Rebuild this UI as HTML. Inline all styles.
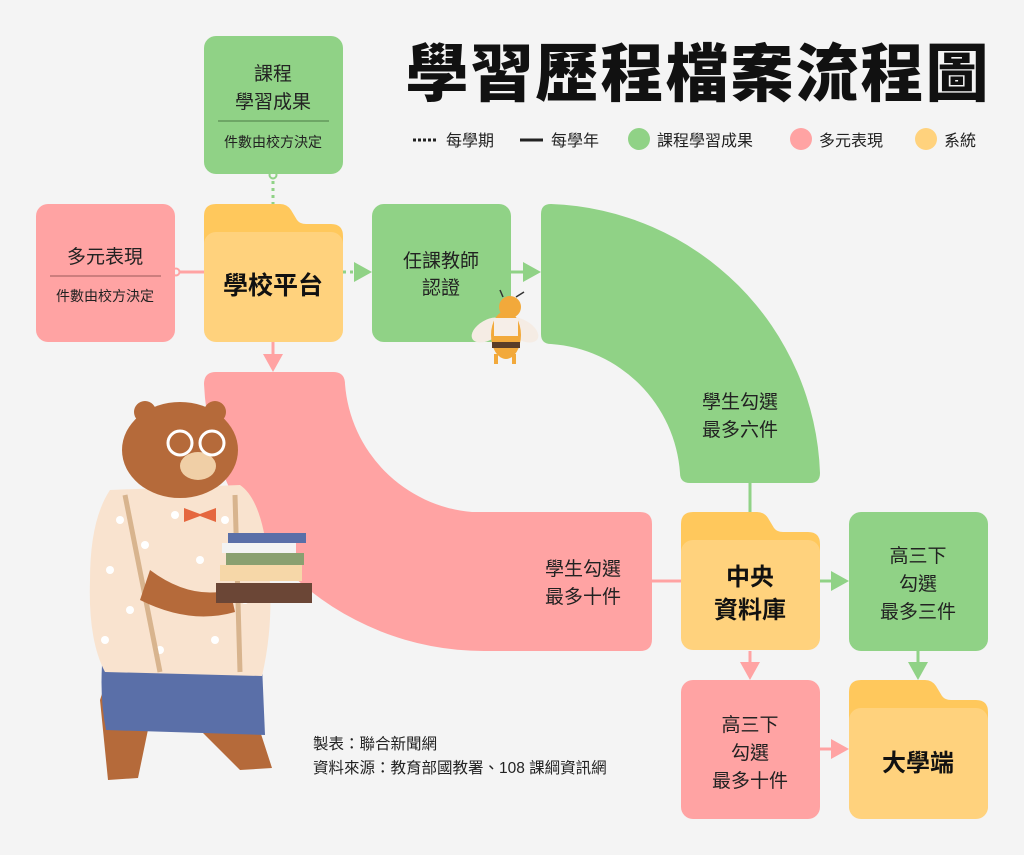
<!DOCTYPE html>
<html><head><meta charset="utf-8"><style>
body{margin:0;background:#f4f4f4;}
svg{display:block;font-family:"Liberation Sans","Noto Sans CJK TC",sans-serif;}
</style></head><body>
<svg width="1024" height="855" viewBox="0 0 1024 855">
<rect width="1024" height="855" fill="#f4f4f4"/>
<text x="698" y="96" font-size="63" font-weight="900" text-anchor="middle" fill="#111" letter-spacing="2">學習歷程檔案流程圖</text>
<!-- legend -->
<line x1="413" y1="140" x2="438" y2="140" stroke="#222" stroke-width="3" stroke-dasharray="3,2"/>
<text x="446" y="146" font-size="16" fill="#222">每學期</text>
<line x1="520" y1="140" x2="543" y2="140" stroke="#222" stroke-width="3"/>
<text x="551" y="146" font-size="16" fill="#222">每學年</text>
<circle cx="639" cy="139" r="11" fill="#90d286"/><text x="657" y="146" font-size="16" fill="#222">課程學習成果</text>
<circle cx="801" cy="139" r="11" fill="#ffa3a3"/><text x="819" y="146" font-size="16" fill="#222">多元表現</text>
<circle cx="926" cy="139" r="11" fill="#ffd27d"/><text x="944" y="146" font-size="16" fill="#222">系統</text>

<!-- connectors -->
<line x1="273" y1="174" x2="273" y2="204" stroke="#90d286" stroke-width="3" stroke-dasharray="3,4"/>
<circle cx="273" cy="175" r="3.5" fill="#f4f4f4" stroke="#90d286" stroke-width="2"/>
<line x1="175" y1="272" x2="204" y2="272" stroke="#ffa3a3" stroke-width="3"/>
<circle cx="176" cy="272" r="3.5" fill="#f4f4f4" stroke="#ffa3a3" stroke-width="2"/>
<line x1="343" y1="272" x2="356" y2="272" stroke="#90d286" stroke-width="3" stroke-dasharray="3,4"/>
<polygon points="354,262 372,272 354,282" fill="#90d286"/>
<line x1="511" y1="272" x2="525" y2="272" stroke="#90d286" stroke-width="3"/>
<polygon points="523,262 541,272 523,282" fill="#90d286"/>
<line x1="273" y1="342" x2="273" y2="356" stroke="#ffa3a3" stroke-width="3"/>
<polygon points="263,354 273,372 283,354" fill="#ffa3a3"/>
<line x1="750" y1="483" x2="750" y2="512" stroke="#90d286" stroke-width="3"/>
<line x1="652" y1="581" x2="681" y2="581" stroke="#ffa3a3" stroke-width="3"/>
<line x1="820" y1="581" x2="833" y2="581" stroke="#90d286" stroke-width="3"/>
<polygon points="831,571 849,581 831,591" fill="#90d286"/>
<line x1="918" y1="651" x2="918" y2="664" stroke="#90d286" stroke-width="3"/>
<polygon points="908,662 918,680 928,662" fill="#90d286"/>
<line x1="750" y1="651" x2="750" y2="664" stroke="#ffa3a3" stroke-width="3"/>
<polygon points="740,662 750,680 760,662" fill="#ffa3a3"/>
<line x1="820" y1="749" x2="833" y2="749" stroke="#ffa3a3" stroke-width="3"/>
<polygon points="831,739 849,749 831,759" fill="#ffa3a3"/>

<!-- boxes -->
<rect x="204" y="36" width="139" height="138" rx="12" fill="#90d286"/>
<text x="273" y="80" font-size="19" text-anchor="middle" fill="#222">課程</text>
<text x="273" y="108" font-size="19" text-anchor="middle" fill="#222">學習成果</text>
<line x1="218" y1="121" x2="329" y2="121" stroke="#4c7a45" stroke-width="1"/>
<text x="273" y="147" font-size="14" text-anchor="middle" fill="#222">件數由校方決定</text>

<rect x="36" y="204" width="139" height="138" rx="12" fill="#ffa3a3"/>
<text x="105" y="263" font-size="19" text-anchor="middle" fill="#222">多元表現</text>
<line x1="50" y1="276" x2="161" y2="276" stroke="#9a5a5a" stroke-width="1"/>
<text x="105" y="301" font-size="14" text-anchor="middle" fill="#222">件數由校方決定</text>

<g id="f1">
<path d="M216,204 H280 Q287,204 291,210 L297,220 Q300,224 306,224 H331 Q343,224 343,236 V260 H204 V216 Q204,204 216,204Z" fill="#ffc85c"/>
<rect x="204" y="232" width="139" height="110" rx="12" fill="#ffd27d"/>
</g>
<text x="273" y="294" font-size="25" font-weight="bold" text-anchor="middle" fill="#111">學校平台</text>

<rect x="372" y="204" width="139" height="138" rx="12" fill="#90d286"/>
<text x="441" y="267" font-size="19" text-anchor="middle" fill="#222">任課教師</text>
<text x="441" y="294" font-size="19" text-anchor="middle" fill="#222">認證</text>

<path d="M541,214 Q541,204 551,204 A279,279 0 0 1 820,473 Q820,483 810,483 H690 Q680,483 680,473 A139,139 0 0 0 551,344 Q541,344 541,334Z" fill="#90d286"/>
<text x="740" y="408" font-size="19" text-anchor="middle" fill="#222">學生勾選</text>
<text x="740" y="436" font-size="19" text-anchor="middle" fill="#222">最多六件</text>

<path d="M216,372 H333 Q345,372 345,384 A139,139 0 0 0 472,512 H640 Q652,512 652,524 V639 Q652,651 640,651 H484 A280,280 0 0 1 204,384 Q204,372 216,372Z" fill="#ffa3a3"/>
<text x="583" y="575" font-size="19" text-anchor="middle" fill="#222">學生勾選</text>
<text x="583" y="603" font-size="19" text-anchor="middle" fill="#222">最多十件</text>

<use href="#f1" transform="translate(477,308)"/>
<text x="750" y="585" font-size="24" font-weight="bold" text-anchor="middle" fill="#111">中央</text>
<text x="750" y="618" font-size="24" font-weight="bold" text-anchor="middle" fill="#111">資料庫</text>

<rect x="849" y="512" width="139" height="139" rx="12" fill="#90d286"/>
<text x="918" y="562" font-size="19" text-anchor="middle" fill="#222">高三下</text>
<text x="918" y="590" font-size="19" text-anchor="middle" fill="#222">勾選</text>
<text x="918" y="618" font-size="19" text-anchor="middle" fill="#222">最多三件</text>

<rect x="681" y="680" width="139" height="139" rx="12" fill="#ffa3a3"/>
<text x="750" y="731" font-size="19" text-anchor="middle" fill="#222">高三下</text>
<text x="750" y="759" font-size="19" text-anchor="middle" fill="#222">勾選</text>
<text x="750" y="787" font-size="19" text-anchor="middle" fill="#222">最多十件</text>

<use href="#f1" transform="translate(645,476)"/>
<rect x="849" y="760" width="139" height="59" rx="12" fill="#ffd27d"/>
<text x="918" y="771" font-size="24" font-weight="bold" text-anchor="middle" fill="#111">大學端</text>

<text x="313" y="749" font-size="15.5" fill="#222">製表：聯合新聞網</text>
<text x="313" y="773" font-size="15.5" fill="#222">資料來源：教育部國教署、108 課綱資訊網</text>

<!-- bee -->
<ellipse cx="488" cy="330" rx="18" ry="10" fill="#f5ece4" transform="rotate(-30 488 330)"/>
<ellipse cx="522" cy="330" rx="18" ry="10" fill="#f5ece4" transform="rotate(30 522 330)"/>
<ellipse cx="506" cy="335" rx="15" ry="24" fill="#f2a93b"/>
<rect x="494" y="318" width="24" height="18" fill="#f6eee8"/>
<rect x="492" y="342" width="28" height="6" fill="#5a3d28"/>
<circle cx="510" cy="307" r="11" fill="#f2a93b"/>
<line x1="503" y1="297" x2="500" y2="290" stroke="#333" stroke-width="1.5"/>
<line x1="516" y1="297" x2="524" y2="292" stroke="#333" stroke-width="1.5"/>
<rect x="494" y="354" width="4" height="10" fill="#f2a93b"/><rect x="512" y="354" width="4" height="10" fill="#f2a93b"/>

<!-- bear -->
<path d="M115,655 L100,700 L108,780 L138,778 L150,720 L200,730 L240,770 L272,768 L250,700 L260,660Z" fill="#b56a3a"/>
<path d="M102,665 Q100,700 106,730 L265,735 L262,665Z" fill="#5a6fa8"/>
<path d="M110,490 Q90,520 90,580 Q88,640 105,672 L262,676 Q275,620 268,560 Q262,500 240,485Z" fill="#f9e3cf"/>
<g fill="#fff">
<circle cx="120" cy="520" r="4"/><circle cx="145" cy="545" r="4"/><circle cx="110" cy="570" r="4"/><circle cx="175" cy="515" r="4"/><circle cx="225" cy="520" r="4"/><circle cx="200" cy="560" r="4"/><circle cx="130" cy="610" r="4"/><circle cx="245" cy="600" r="4"/><circle cx="215" cy="640" r="4"/><circle cx="160" cy="650" r="4"/><circle cx="105" cy="640" r="4"/>
</g>
<line x1="125" y1="495" x2="160" y2="672" stroke="#d8b48e" stroke-width="5"/>
<line x1="235" y1="495" x2="240" y2="672" stroke="#d8b48e" stroke-width="5"/>
<ellipse cx="180" cy="450" rx="58" ry="48" fill="#b56a3a"/>
<circle cx="145" cy="412" r="11" fill="#b56a3a"/><circle cx="215" cy="412" r="11" fill="#b56a3a"/>
<ellipse cx="198" cy="466" rx="18" ry="14" fill="#f0cfa6"/>
<circle cx="180" cy="443" r="12" fill="none" stroke="#fff" stroke-width="3"/>
<circle cx="212" cy="443" r="12" fill="none" stroke="#fff" stroke-width="3"/>
<polygon points="184,508 200,514 216,508 216,522 200,516 184,522" fill="#e5673f"/>
<path d="M150,570 Q190,600 230,590 L235,612 Q190,625 140,600Z" fill="#b56a3a"/>
<rect x="228" y="533" width="78" height="10" fill="#5a6fa8"/>
<rect x="222" y="543" width="74" height="10" fill="#f3f3f3"/>
<rect x="226" y="553" width="78" height="12" fill="#8aa070"/>
<rect x="220" y="565" width="82" height="16" fill="#f6d7a8"/>
<rect x="216" y="583" width="96" height="20" fill="#6b4636"/>
</svg>
</body></html>
